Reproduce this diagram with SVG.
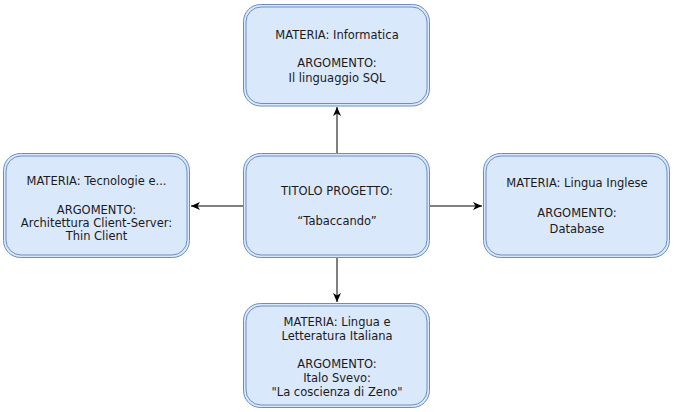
<svg xmlns="http://www.w3.org/2000/svg" width="674" height="412" viewBox="0 0 674 412">
<defs>
<style>
.o{fill:#dae8fc;stroke:#6c8ebf;stroke-width:1}
.i{fill:none;stroke:#6c8ebf;stroke-width:1}
text{font-family:"DejaVu Sans",sans-serif;font-size:11.5px;fill:#1a1a1a;text-anchor:middle;dominant-baseline:central}
.c{stroke:#000;stroke-width:1;fill:none;marker-end:url(#a)}
</style>
<marker id="a" viewBox="0 0 10 10" refX="9" refY="5" markerWidth="10" markerHeight="10" markerUnits="userSpaceOnUse" orient="auto">
<path d="M0,1 L9,5 L0,9 L2.5,5 Z" fill="#000"/>
</marker>
</defs>
<rect width="674" height="412" fill="#fff"/>
<g id="connectors">
<path class="c" d="M337,153 V107"/>
<path class="c" d="M243,206 H191"/>
<path class="c" d="M430,206 H482"/>
<path class="c" d="M337,258 V302"/>
</g>
<g id="top">
<rect class="o" x="243.5" y="4.5" width="186" height="101.5" rx="17"/>
<rect class="i" x="246" y="7" width="181" height="96.5" rx="15"/>
<text x="337" y="35">MATERIA: Informatica</text>
<text x="337" y="63">ARGOMENTO:</text>
<text x="337" y="77.5">Il linguaggio SQL</text>
</g>
<g id="left">
<rect class="o" x="3.5" y="153.5" width="186" height="104" rx="17"/>
<rect class="i" x="6" y="156" width="181" height="99" rx="15"/>
<text x="96.5" y="181">MATERIA: Tecnologie e...</text>
<text x="96.5" y="210">ARGOMENTO:</text>
<text x="96.5" y="223">Architettura Client-Server:</text>
<text x="96.5" y="236">Thin Client</text>
</g>
<g id="center">
<rect class="o" x="243.5" y="153.5" width="186" height="104" rx="17"/>
<rect class="i" x="246" y="156" width="181" height="99" rx="15"/>
<text x="337" y="190.5">TITOLO PROGETTO:</text>
<text x="337" y="221">“Tabaccando”</text>
</g>
<g id="right">
<rect class="o" x="483.5" y="153.5" width="186" height="104" rx="17"/>
<rect class="i" x="486" y="156" width="181" height="99" rx="15"/>
<text x="577" y="183">MATERIA: Lingua Inglese</text>
<text x="577" y="213">ARGOMENTO:</text>
<text x="577" y="229">Database</text>
</g>
<g id="bottom">
<rect class="o" x="243.5" y="303.5" width="186" height="104" rx="17"/>
<rect class="i" x="246" y="306" width="181" height="99" rx="15"/>
<text x="337" y="321.5">MATERIA: Lingua e</text>
<text x="337" y="335.5">Letteratura Italiana</text>
<text x="337" y="364">ARGOMENTO:</text>
<text x="337" y="378">Italo Svevo:</text>
<text x="337" y="392">"La coscienza di Zeno"</text>
</g>
</svg>
